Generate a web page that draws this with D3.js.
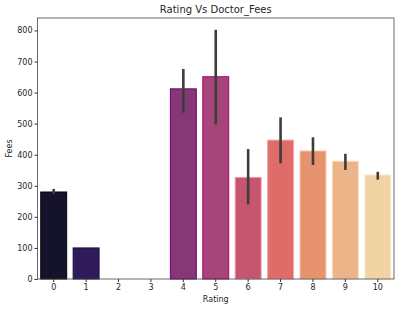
<!DOCTYPE html>
<html>
<head>
<meta charset="utf-8">
<script src="https://cdn.jsdelivr.net/npm/d3@7"></script>
<style>
  body { margin: 0; background: #fff; }
  text { font-family: "DejaVu Sans", sans-serif; fill: #262626; }
</style>
</head>
<body>
<svg id="chart" width="399" height="309"></svg>
<script>
const ratings = ["0", "1", "2", "3", "4", "5", "6", "7", "8", "9", "10"];
const fees = [280, 100, null, null, 612, 651, 327, 447, 412, 379, 335];
const errLow = [274, null, null, null, 535, 497, 240, 372, 367, 351, 320];
const errHigh = [290, null, null, null, 676, 802, 418, 520, 456, 403, 345];
const fillColors = ["#15122b", "#2f1b5a", "#5a1f6e", "#6e2a74", "#863776", "#a6457a", "#c6566f", "#de6d69", "#e79370", "#edb48a", "#f1d4a3"];
const edgeColors = ["#000004", "#1b0c41", "#4a0c6b", "#5a0a70", "#6a0070", "#b0006e", "#ec9aaa", "#f5a6a2", "#f8c4a6", "#fbdcc0", "#fbecd0"];
const yTicks = [0, 100, 200, 300, 400, 500, 600, 700, 800];

const margin = { top: 18, right: 5, bottom: 30, left: 37.5 };
const width = 399, height = 309;
const svg = d3.select("#chart");

const x = d3.scaleBand()
  .domain(ratings)
  .range([margin.left, width - margin.right])
  .paddingInner(0.2)
  .paddingOuter(0.1);

const y = d3.scaleLinear()
  .domain([0, 840])
  .range([height - margin.bottom, margin.top]);

// bars
svg.append("g")
  .selectAll("rect")
  .data(ratings.map((r, i) => ({ r, v: fees[i], i })).filter(d => d.v != null))
  .join("rect")
  .attr("x", d => x(d.r))
  .attr("y", d => y(d.v))
  .attr("width", x.bandwidth())
  .attr("height", d => y(0) - y(d.v))
  .attr("fill", d => fillColors[d.i])
  .attr("stroke", d => edgeColors[d.i])
  .attr("stroke-width", 1);

// error bars
svg.append("g")
  .selectAll("line")
  .data(ratings.map((r, i) => ({ r, lo: errLow[i], hi: errHigh[i] })).filter(d => d.lo != null))
  .join("line")
  .attr("x1", d => x(d.r) + x.bandwidth() / 2)
  .attr("x2", d => x(d.r) + x.bandwidth() / 2)
  .attr("y1", d => y(d.lo))
  .attr("y2", d => y(d.hi))
  .attr("stroke", "#3d3d3d")
  .attr("stroke-width", 2.6);

// axes
const xAxis = svg.append("g")
  .attr("transform", `translate(0,${height - margin.bottom})`)
  .call(d3.axisBottom(x).tickSize(3).tickPadding(2));
const yAxis = svg.append("g")
  .attr("transform", `translate(${margin.left},0)`)
  .call(d3.axisLeft(y).tickValues(yTicks).tickSize(3).tickPadding(2));

[xAxis, yAxis].forEach(a => {
  a.select(".domain").remove();
  a.selectAll("text").style("font-size", "8px").attr("fill", "#262626");
  a.selectAll(".tick line").attr("stroke", "#333");
});

// frame
svg.append("rect")
  .attr("x", margin.left)
  .attr("y", margin.top)
  .attr("width", width - margin.right - margin.left)
  .attr("height", height - margin.bottom - margin.top)
  .attr("fill", "none")
  .attr("stroke", "#444")
  .attr("stroke-width", 0.8);

// labels
svg.append("text")
  .attr("x", (margin.left + width - margin.right) / 2)
  .attr("y", 13)
  .attr("text-anchor", "middle")
  .style("font-size", "10px")
  .text("Rating Vs Doctor_Fees");

svg.append("text")
  .attr("x", (margin.left + width - margin.right) / 2)
  .attr("y", 302)
  .attr("text-anchor", "middle")
  .style("font-size", "8px")
  .text("Rating");

svg.append("text")
  .attr("transform", `translate(12,${(margin.top + height - margin.bottom) / 2}) rotate(-90)`)
  .attr("text-anchor", "middle")
  .style("font-size", "8px")
  .text("Fees");
</script>
</body>
</html>
